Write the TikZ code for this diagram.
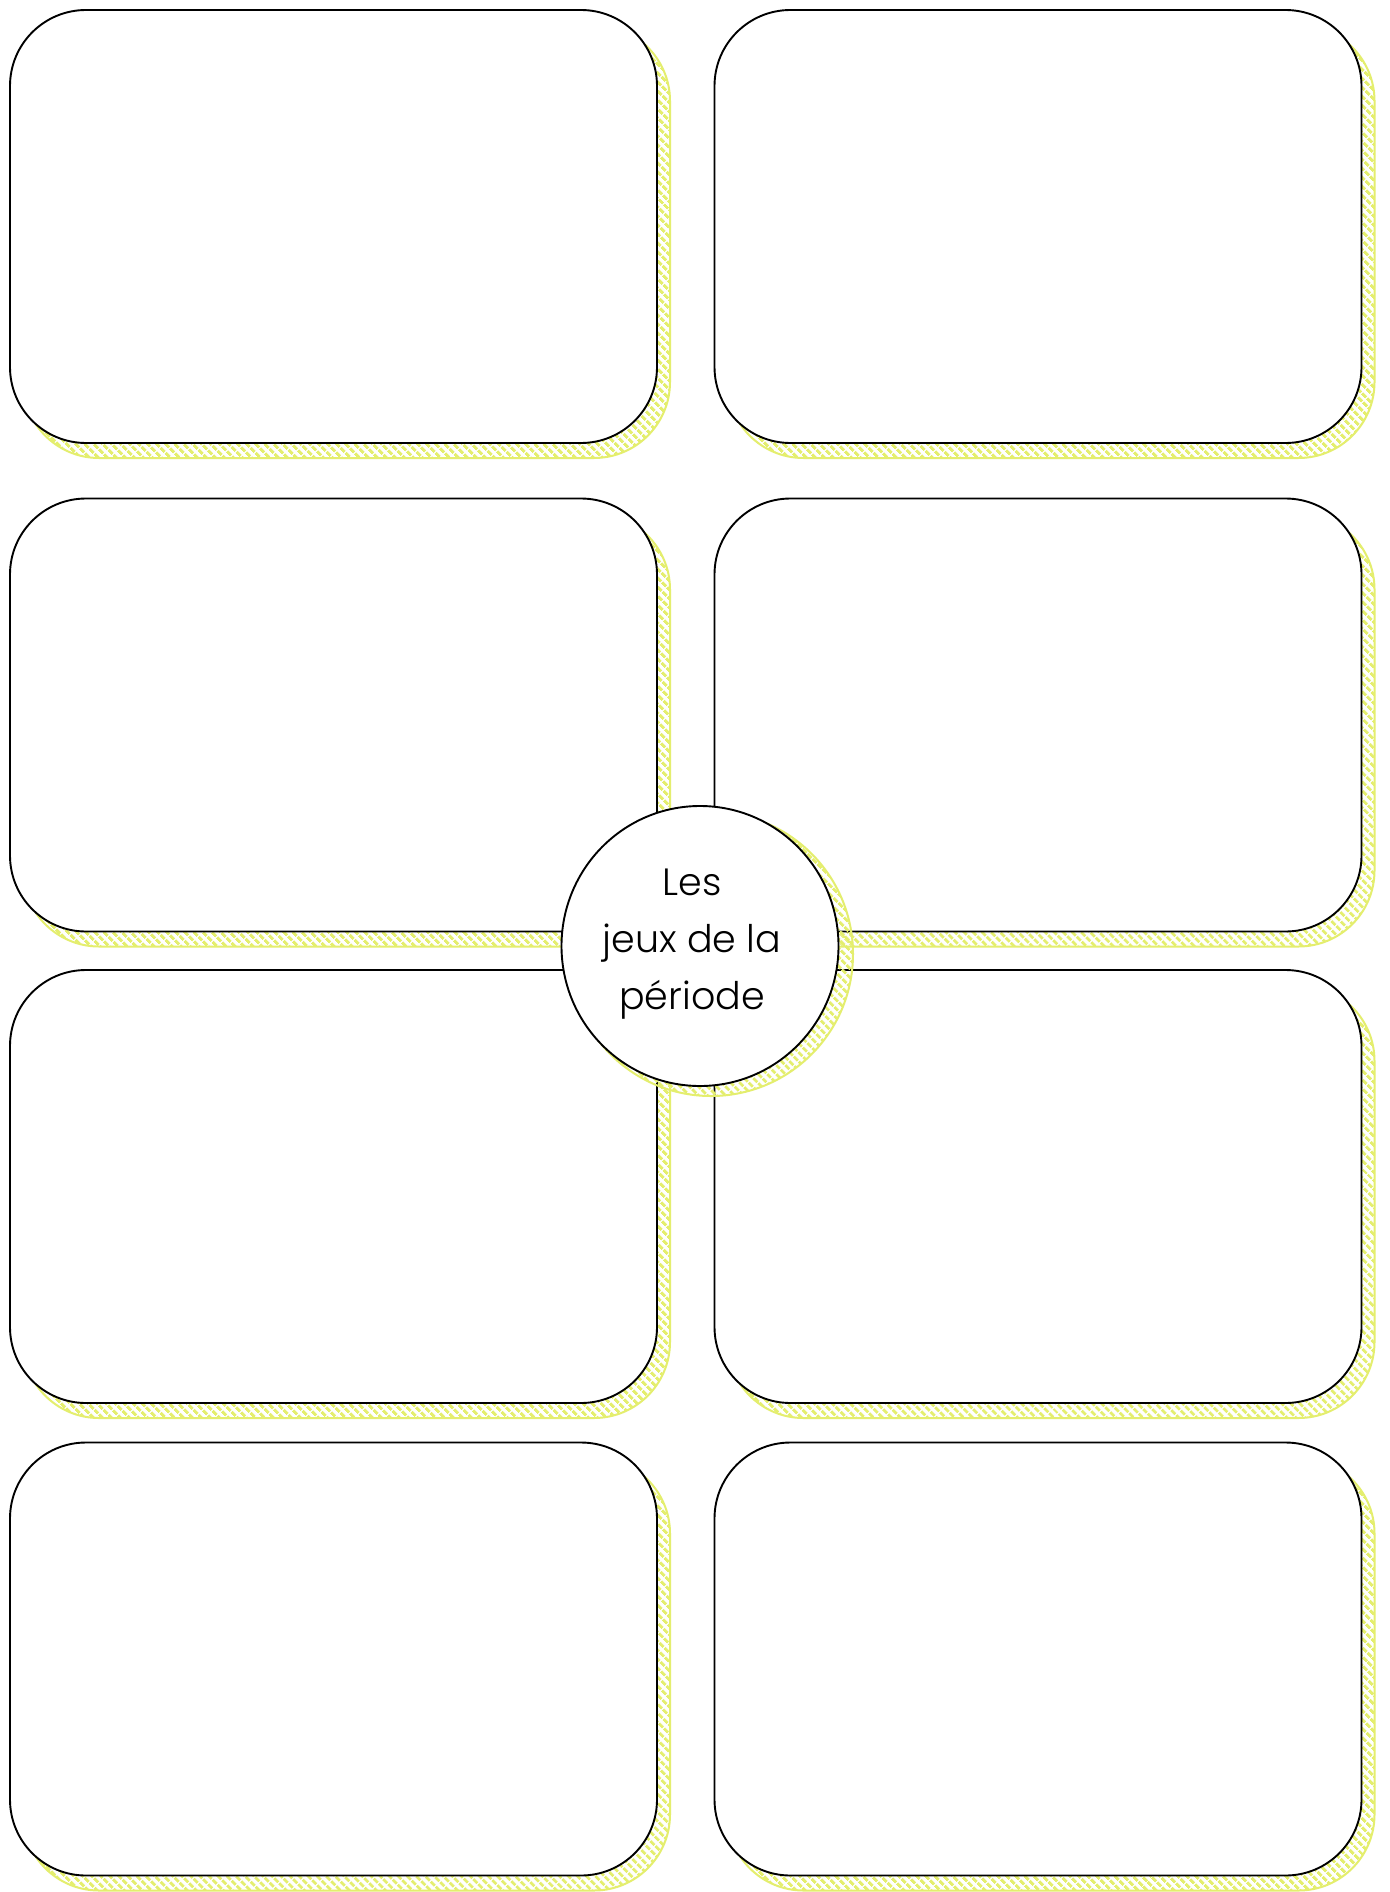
\documentclass[tikz,border=0pt]{standalone}
\usepackage{fontspec}
\setmainfont{Poppins}[UprightFont={* Light}]
\usetikzlibrary{patterns.meta,shapes.geometric}
\definecolor{hatch}{RGB}{228,238,110}
\tikzset{
  shadowfill/.style={draw=hatch, line width=2pt,
    pattern={Lines[angle=-45,distance=6.5pt,line width=3.4pt]}, pattern color=hatch},
  card/.style={draw=black, fill=white, line width=1.9pt, rectangle,
    rounded corners=76pt, inner sep=0pt, minimum width=647pt, minimum height=433pt,
    preaction={shadowfill, transform canvas={shift={(13pt,-15pt)}}}},
  hub/.style={draw=black, fill=white, line width=1.9pt, ellipse, inner sep=0pt,
    minimum width=277pt, minimum height=280pt},
  hubshadow/.style={shadowfill, ellipse, inner sep=0pt,
    minimum width=284pt, minimum height=284pt},
  label/.style={align=center, font=\fontsize{38}{57}\selectfont, text=black}
}
\begin{document}
\begin{tikzpicture}[x=1pt,y=-1pt]
\useasboundingbox (0,0) rectangle (1389,1892);
\fill[white] (0,0) rectangle (1389,1892);
% left column
\node[card] (b1) at (333.5,226.5) {};
\node[card] (b3) at (333.5,715) {};
\node[card] (b5) at (333.5,1186.5) {};
\node[card] (b7) at (333.5,1659) {};
% right column
\node[card] (b2) at (1038,226.5) {};
\node[card] (b4) at (1038,715) {};
\node[card] (b6) at (1038,1186.5) {};
\node[card] (b8) at (1038,1659) {};
% central circle
\node[hubshadow] (cs) at (711,954) {};
\node[hub] (c) at (700,946) {};
\node[label] (t) at (692,944) {Les\\jeux de la\\période};
\end{tikzpicture}
\end{document}
